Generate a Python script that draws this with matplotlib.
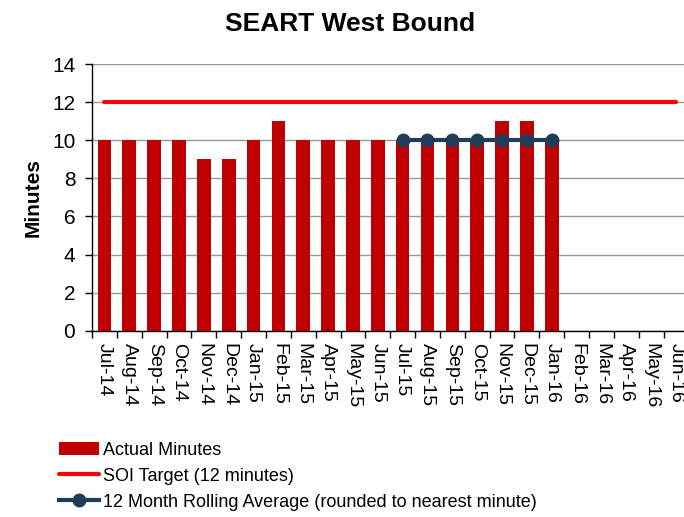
import matplotlib
matplotlib.use("Agg")
import matplotlib.pyplot as plt
import numpy as np

plt.rcParams['font.family'] = ['Liberation Sans', 'DejaVu Sans']

months = ["Jul-14", "Aug-14", "Sep-14", "Oct-14", "Nov-14", "Dec-14", "Jan-15", "Feb-15",
          "Mar-15", "Apr-15", "May-15", "Jun-15", "Jul-15", "Aug-15", "Sep-15", "Oct-15",
          "Nov-15", "Dec-15", "Jan-16", "Feb-16", "Mar-16", "Apr-16", "May-16", "Jun-16"]
actual = [10, 10, 10, 10, 9, 9, 10, 11, 10, 10, 10, 10, 10, 10, 10, 10, 11, 11, 10]
target = [12] * 24
rolling_months = ["Jul-15", "Aug-15", "Sep-15", "Oct-15", "Nov-15", "Dec-15", "Jan-16"]
rolling = [10, 10, 10, 10, 10, 10, 10]

fig = plt.figure(figsize=(6.84, 5.17), dpi=100)
ax = fig.add_axes([0.1345, 0.3603, 0.872, 0.5159])

x = np.arange(len(months))
idx = {m: i for i, m in enumerate(months)}
bars = ax.bar(x[:len(actual)], actual, width=0.55, color='#C00000', label='Actual Minutes', zorder=2)
l1, = ax.plot(x, target, color='#FF0000', lw=3, solid_capstyle='round',
              label='SOI Target (12 minutes)', zorder=3)
rx = [idx[m] for m in rolling_months]
l2, = ax.plot(rx, rolling, color='#1E3D5A', lw=3, marker='o', markersize=9,
              label='12 Month Rolling Average (rounded to nearest minute)', zorder=4)

ax.set_xlim(-0.5, len(months) - 0.5)
ax.set_ylim(0, 14)
ax.set_yticks(range(0, 15, 2))
ax.yaxis.grid(True, color='#999999', lw=1, zorder=0)
ax.set_axisbelow(True)
ax.set_xticks(x)
ax.set_xticklabels(months, rotation=-90, fontsize=14)
ax.tick_params(axis='x', length=0, pad=9)
ax.set_xticks(np.arange(-0.5, len(months), 1), minor=True)
ax.tick_params(axis='x', which='minor', length=5, width=1, color='black')
ax.tick_params(axis='y', labelsize=15, length=5, width=1, direction='out', pad=7)
for s in ['top', 'right']:
    ax.spines[s].set_visible(False)
for s in ['left', 'bottom']:
    ax.spines[s].set_color('black')
    ax.spines[s].set_linewidth(1)
ax.spines['left'].set_zorder(5)

ax.set_ylabel('Minutes', fontsize=15, fontweight='bold', labelpad=7)
fig.text(0.512, 0.954, 'SEART West Bound', fontsize=19, fontweight='bold',
         ha='center', va='center')

fig.legend(handles=[bars, l1, l2], loc='upper left', bbox_to_anchor=(0.076, 0.160),
           frameon=False, fontsize=13, handlelength=2.2, handletextpad=0.22,
           labelspacing=0.5, borderaxespad=0)

fig.savefig('out.png', dpi=100)
